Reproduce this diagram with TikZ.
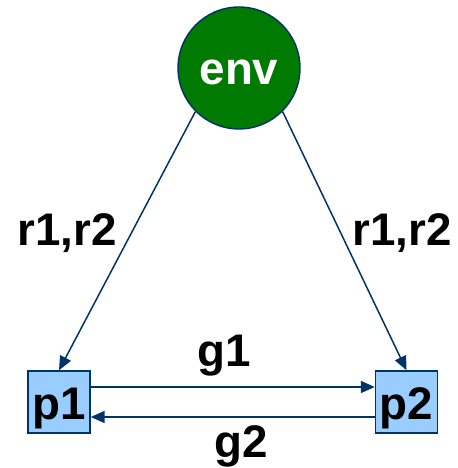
\documentclass[tikz,border=0pt]{standalone}
\usepackage{fontspec}
\setmainfont{Liberation Sans}
\usetikzlibrary{arrows.meta}

\definecolor{envgreen}{RGB}{0,122,0}
\definecolor{procblue}{RGB}{153,204,255}
\definecolor{linenavy}{RGB}{0,51,102}

\begin{document}
\begin{tikzpicture}[
    font=\fontsize{26}{30}\selectfont\bfseries,
    >={Triangle[length=0.28cm,width=0.24cm]},
    proc/.style={shape=rectangle,draw=linenavy,fill=procblue,line width=0.8pt,
        minimum size=1.24cm,inner sep=0pt,text height=0.72cm,text depth=0cm},
    lbl/.style={inner sep=0pt,text=black}
]
            \useasboundingbox (0,0) rectangle (9.16,9.36);
            \node[shape=circle,draw=linenavy,fill=envgreen,text=white,line width=0.8pt,
                minimum size=2.44cm,inner sep=0pt,text height=0.68cm,text depth=0cm] (env) at (4.78,8.00) {env};
            \node[proc] (p1) at (1.18,1.32) {p1};
            \node[proc] (p2) at (8.13,1.32) {p2};
            \path [->,line width=0.85pt,color=linenavy] (env.225) edge node[lbl,pos=0.47,left=0.28cm]{r1,r2} (p1.north);
            \path [->,line width=0.85pt,color=linenavy] (env.315) edge node[lbl,pos=0.47,right=0.22cm]{r1,r2} (p2.north);
            \path [->,line width=0.85pt,color=linenavy] ([yshift=0.3cm]p1.east) edge node[lbl,pos=0.47,above=0.2cm]{g1} ([yshift=0.3cm]p2.west);
            \path [->,line width=0.85pt,color=linenavy] ([yshift=-0.3cm]p2.west) edge node[lbl,pos=0.47,below=0.16cm]{g2} ([yshift=-0.3cm]p1.east);
        \end{tikzpicture}
\end{document}
